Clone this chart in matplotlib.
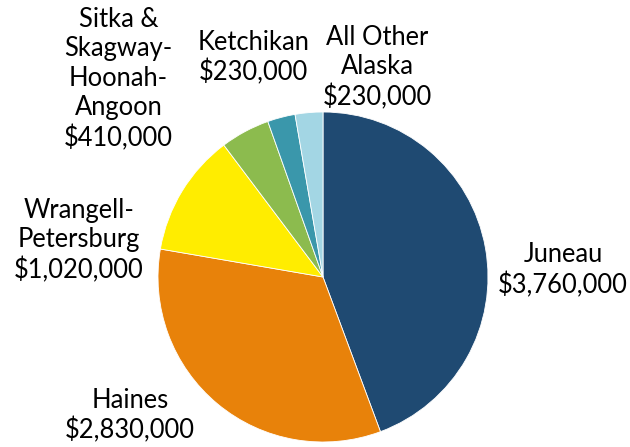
import matplotlib.pyplot as plt

# grant amounts by area, clockwise from the top
areas = ["Juneau", "Haines", "Wrangell-\nPetersburg",
         "Sitka &\nSkagway-\nHoonah-\nAngoon", "Ketchikan", "All Other\nAlaska"]
amounts = [3760000, 2830000, 1020000, 410000, 230000, 230000]
colors = ["#1f4a72", "#e8820a", "#ffed00", "#8cbb4e", "#3a97ab", "#a3d6e4"]

# label centres in pie units (radius = 1)
label_pos = [(1.455, 0.04), (-1.17, -0.84), (-1.48, 0.22),
             (-1.24, 1.20), (-0.42, 1.33), (0.33, 1.27)]

plt.rcParams['font.family'] = ['Lato', 'DejaVu Sans']

fig = plt.figure(figsize=(6.3, 4.47), dpi=100)
ax = fig.add_axes([0, 0, 1, 1])

ax.pie(amounts, colors=colors, startangle=90, counterclock=False,
       radius=1.0, wedgeprops=dict(linewidth=0.6, edgecolor="white"))

for name, val, (x, y) in zip(areas, amounts, label_pos):
    ax.text(x, y, name + "\n" + "${:,}".format(val), ha="center", va="center",
            fontsize=18.4, color="black", linespacing=1.22)

ax.set_xlim(-323 / 165, (630 - 323) / 165)
ax.set_ylim(-(447 - 277) / 165, 277 / 165)
ax.set_aspect("equal")
ax.axis("off")

fig.savefig("out.png", dpi=100)
